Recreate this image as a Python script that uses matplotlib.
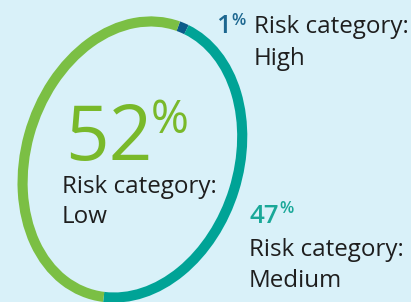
import matplotlib
matplotlib.use("Agg")
import matplotlib.pyplot as plt
from matplotlib.patches import Arc
import numpy as np

# Data
categories = ["High", "Medium", "Low"]
shares = [1, 47, 52]
seg_colors = ["#0b5b8a", "#00a396", "#7bbf44"]
pct_text_colors = ["#1d6790", "#19a898", "#79b92a"]

plt.rcParams['font.family'] = ['Open Sans', 'DejaVu Sans']

W, H = 411, 302
fig = plt.figure(figsize=(W / 100, H / 100), dpi=100)
fig.patch.set_facecolor("#d9f1f9")
ax = fig.add_axes([0, 0, 1, 1])
ax.set_xlim(0, W)
ax.set_ylim(H, 0)
ax.set_facecolor("#d9f1f9")
ax.axis("off")

# Ring (tilted ellipse), segments clockwise from the top of the major axis
cx, cy = 132.4, 159.5
a_minor, b_major, tilt = 106, 141, 18
total = sum(shares)
start = 271.0
for val, col in zip(shares, seg_colors):
    span = 360.0 * val / total
    t1 = start % 360
    t2 = (start + span) % 360
    arc = Arc((cx, cy), 2 * a_minor, 2 * b_major, angle=tilt,
              theta1=t1, theta2=t2, color=col, lw=7.3, capstyle='butt')
    ax.add_patch(arc)
    start += span

dark = "#1e1e1e"
fs = 17.4
# Low (centre)
ax.text(65, 160, f"{shares[2]}", fontsize=55, color=pct_text_colors[2],
        ha="left", va="baseline")
ax.text(151, 133, "%", fontsize=33, color=pct_text_colors[2],
        ha="left", va="baseline")
ax.text(62, 193, "Risk category:", fontsize=fs, color=dark, ha="left", va="baseline")
ax.text(62, 222.7, categories[2], fontsize=fs, color=dark, ha="left", va="baseline")

# High
ax.text(216, 33, f"{shares[0]}", fontsize=18.6, color=pct_text_colors[0],
        ha="left", va="baseline", fontweight="semibold")
ax.text(231, 25, "%", fontsize=12, color=pct_text_colors[0],
        ha="left", va="baseline", fontweight="semibold")
ax.text(254, 33, "Risk category:", fontsize=fs, color=dark, ha="left", va="baseline")
ax.text(254, 65, categories[0], fontsize=fs, color=dark, ha="left", va="baseline")

# Medium
ax.text(249, 222.7, f"{shares[1]}", fontsize=18.6, color=pct_text_colors[1],
        ha="left", va="baseline", fontweight="semibold")
ax.text(279, 213, "%", fontsize=12, color=pct_text_colors[1],
        ha="left", va="baseline", fontweight="semibold")
ax.text(249, 256, "Risk category:", fontsize=fs, color=dark, ha="left", va="baseline")
ax.text(249, 287, categories[1], fontsize=fs, color=dark, ha="left", va="baseline")

fig.savefig("out.png", dpi=100, facecolor=fig.get_facecolor())
